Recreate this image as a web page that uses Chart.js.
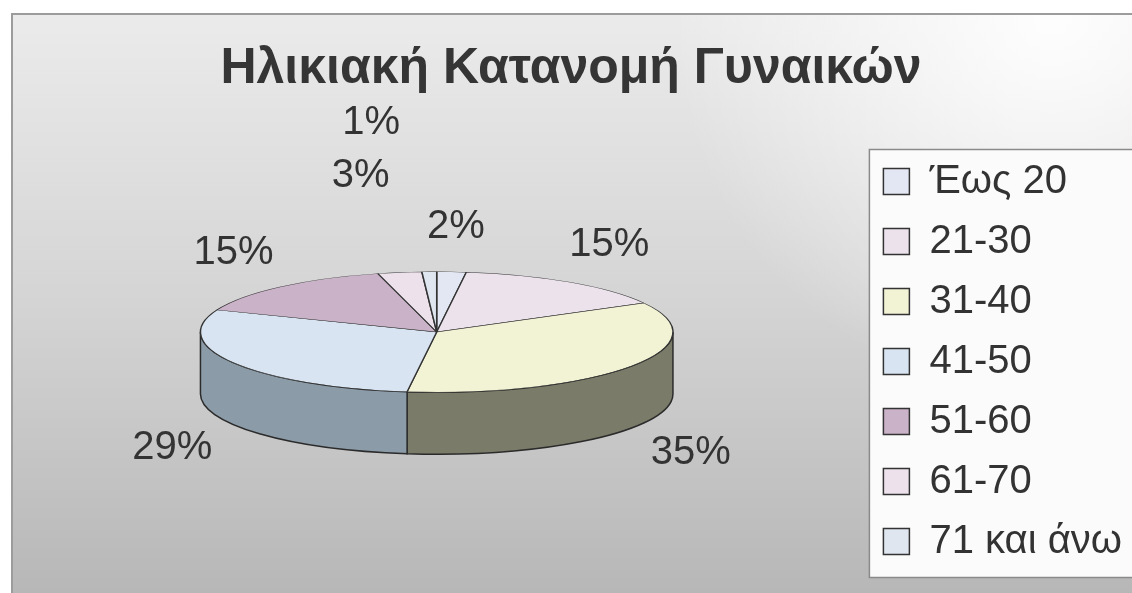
<!DOCTYPE html>
<html lang="el">
<head>
<meta charset="UTF-8">
<title>Ηλικιακή Κατανομή Γυναικών</title>
<script src="https://cdn.jsdelivr.net/npm/chart.js"></script>
<style>
    html, body { margin: 0; padding: 0; background: #fff; }
    .wrap { width: 1132px; height: 593px; position: relative; }
</style>
</head>
<body>
<div class="wrap"><canvas id="pie"></canvas></div>
<script>
    // Δεδομένα
    const ageGroups = ['Έως 20', '21-30', '31-40', '41-50', '51-60', '61-70', '71 και άνω'];
    const shares = [2, 15, 35, 29, 15, 3, 1];

    const topColors = ['#e3e7f3', '#ece2ec', '#f2f2d5', '#d8e4f1', '#cab2c8', '#ede2eb', '#dfe6f0'];
    const sideColors = ['#9aa0b4', '#a893a6', '#7b7b69', '#8b9ba7', '#8a7088', '#a898a6', '#98a2b0'];

    const FONT = "'Liberation Sans', Arial, sans-serif";

    // ψευδο-3D πίτα: πλαϊνά + πλάτυνση της επάνω όψης
    const pie3d = {
        id: 'pie3d',
        beforeDraw(chart) {
            const ctx = chart.ctx;
            const W = chart.width, H = chart.height;
            ctx.save();
            ctx.fillStyle = '#ffffff';
            ctx.fillRect(0, 0, W, H);
            const g = ctx.createLinearGradient(0, 14, 0, H);
            g.addColorStop(0, '#ebebeb');
            g.addColorStop(0.5, '#d4d4d4');
            g.addColorStop(1, '#b7b7b7');
            ctx.fillStyle = g;
            ctx.fillRect(12, 14, W, H);
            const r = ctx.createRadialGradient(W - 80, 20, 10, W - 80, 20, 380);
            r.addColorStop(0, 'rgba(255,255,255,0.9)');
            r.addColorStop(1, 'rgba(255,255,255,0)');
            ctx.fillStyle = r;
            ctx.fillRect(12, 14, W, H);
            ctx.strokeStyle = '#9c9c9c';
            ctx.lineWidth = 2;
            ctx.beginPath();
            ctx.moveTo(12, H);
            ctx.lineTo(12, 14);
            ctx.lineTo(W, 14);
            ctx.stroke();

            // πλαίσιο υπομνήματος
            const hb = chart.legend.legendHitBoxes;
            if (hb && hb.length) {
                const x = hb[0].left - 14;
                const y = hb[0].top - 12;
                const last = hb[hb.length - 1];
                const h = last.top + last.height + 16 - y;
                ctx.fillStyle = '#fbfbfb';
                ctx.fillRect(x, y, W - x + 5, h);
                ctx.strokeStyle = '#8a8a8a';
                ctx.lineWidth = 1.5;
                ctx.strokeRect(x, y, W - x + 5, h);
            }
            ctx.restore();
        },
        beforeDatasetsDraw(chart, args, opts) {
            const ctx = chart.ctx;
            const arcs = chart.getDatasetMeta(0).data;
            const a = arcs[0];
            const cx = a.x, cy = a.y + opts.shift;
            const R = a.outerRadius, ry = R * opts.squash, d = opts.depth;

            arcs.forEach((arc, i) => {
                const st = Math.max(arc.startAngle, 0);
                const en = Math.min(arc.endAngle, Math.PI);
                if (en <= st) return;
                ctx.beginPath();
                ctx.ellipse(cx, cy, R, ry, 0, st, en);
                ctx.ellipse(cx, cy + d, R, ry, 0, en, st, true);
                ctx.closePath();
                ctx.fillStyle = sideColors[i];
                ctx.fill();
                ctx.strokeStyle = '#2b2b2b';
                ctx.lineWidth = 1.5;
                ctx.stroke();
            });

            ctx.save();
            ctx.translate(cx, cy);
            ctx.scale(1, opts.squash);
            ctx.translate(-a.x, -a.y);
        },
        afterDatasetsDraw(chart, args, opts) {
            const ctx = chart.ctx;
            ctx.restore();

            const arcs = chart.getDatasetMeta(0).data;
            const a = arcs[0];
            const cx = a.x, cy = a.y + opts.shift;
            const R = a.outerRadius, ry = R * opts.squash, d = opts.depth;

            ctx.save();
            ctx.font = '40px ' + FONT;
            ctx.fillStyle = '#333333';
            ctx.textAlign = 'center';
            ctx.textBaseline = 'middle';
            const placed = [];
            const lh = 40;
            arcs.forEach((arc, i) => {
                const mid = (arc.startAngle + arc.endAngle) / 2;
                const txt = shares[i] + '%';
                const w = ctx.measureText(txt).width;
                let x = cx + R * opts.labelX * Math.cos(mid);
                let y = cy + ry * opts.labelY * Math.sin(mid) + (Math.sin(mid) > 0 ? d : 0);
                const hit = () => placed.some(p =>
                    Math.abs(p.x - x) < (p.w + w) / 2 + 20 && Math.abs(p.y - y) < lh);
                let guard = 0;
                while (hit() && guard++ < 10) {
                    x -= lh * 0.7;
                    y -= lh * 1.3;
                }
                placed.push({ x, y, w });
                ctx.fillText(txt, x, y);
            });
            ctx.restore();
        }
    };

    new Chart(document.getElementById('pie'), {
        type: 'pie',
        data: {
            labels: ageGroups,
            datasets: [{
                data: shares,
                backgroundColor: topColors,
                borderColor: '#333333',
                borderWidth: 1.5
            }]
        },
        options: {
            responsive: true,
            maintainAspectRatio: false,
            animation: false,
            layout: { padding: { left: 10, right: 0, top: 0, bottom: 10 } },
            plugins: {
                title: {
                    display: true,
                    text: 'Ηλικιακή Κατανομή Γυναικών',
                    color: '#353535',
                    font: { family: FONT, size: 50, weight: 'bold' },
                    padding: { top: 39, bottom: 10 }
                },
                legend: {
                    position: 'right',
                    title: { display: true, text: '', padding: { top: 92, bottom: 0 }, font: { size: 40 } },
                    labels: {
                        color: '#333333',
                        font: { family: FONT, size: 40 },
                        boxWidth: 26,
                        boxHeight: 26,
                        padding: 20
                    }
                },
                tooltip: { enabled: false },
                pie3d: { squash: 0.255, depth: 62, shift: -14, labelX: 1.3, labelY: 1.75 }
            }
        },
        plugins: [pie3d]
    });
</script>
</body>
</html>
